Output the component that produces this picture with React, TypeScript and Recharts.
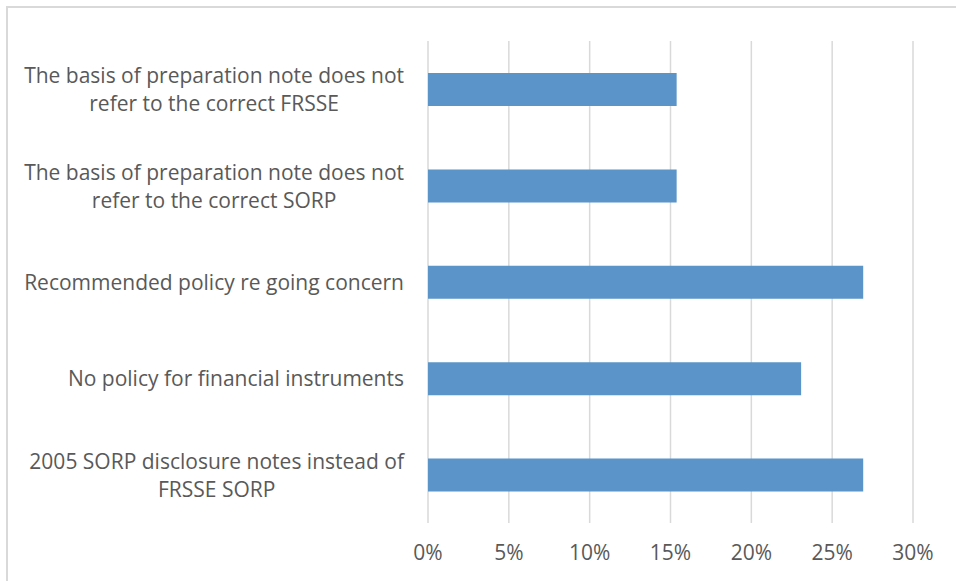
import React from 'react';
import { BarChart, Bar, XAxis, YAxis, CartesianGrid } from 'recharts';

const categories = [
  'The basis of preparation note does not refer to the correct FRSSE',
  'The basis of preparation note does not refer to the correct SORP',
  'Recommended policy re going concern',
  'No policy for financial instruments',
  '2005 SORP disclosure notes instead of FRSSE SORP',
];
const shares = [0.1538, 0.1538, 0.2692, 0.2308, 0.2692];
const xTicks = [0, 0.05, 0.1, 0.15, 0.2, 0.25, 0.3];

const data = categories.map((name, i) => ({ name, value: shares[i] }));

const FONT = '"Open Sans", sans-serif';
const FONT_SIZE = 21;
const TEXT = '#595959';
const GRID = '#d9d9d9';
const BAR = '#5B94C9';
const Y_WIDTH = 428;

let canvasCtx: CanvasRenderingContext2D | null = null;
const measure = (s: string) => {
  if (!canvasCtx) canvasCtx = document.createElement('canvas').getContext('2d');
  if (!canvasCtx) return s.length * 10;
  canvasCtx.font = `${FONT_SIZE}px "Open Sans"`;
  return canvasCtx.measureText(s).width;
};

const wrap = (s: string, max = 38) => {
  const lines: string[] = [];
  let cur = '';
  s.split(' ').forEach((w) => {
    const next = cur ? cur + ' ' + w : w;
    if (next.length > max && cur) {
      lines.push(cur);
      cur = w;
    } else cur = next;
  });
  if (cur) lines.push(cur);
  return lines;
};

const CategoryTick = ({ y, payload }: any) => {
  const lines = wrap(payload.value);
  const right = Y_WIDTH - 24;
  const widest = Math.max(...lines.map(measure));
  const cx = right - widest / 2;
  const step = 28;
  const top = y - ((lines.length - 1) * step) / 2;
  return (
    <g>
      {lines.map((l, i) => (
        <text
          key={i}
          x={lines.length > 1 ? cx : right}
          y={top + i * step}
          textAnchor={lines.length > 1 ? 'middle' : 'end'}
          dominantBaseline="central"
          fill={TEXT}
          fontSize={FONT_SIZE}
          fontFamily={FONT}
        >
          {l}
        </text>
      ))}
    </g>
  );
};

// tick y arrives below the axis line (axis y + tick size + margin)
const PercentTick = ({ x, y, payload }: any) => (
  <text x={x} y={y + 21} textAnchor="middle" dominantBaseline="central" fill={TEXT} fontSize={FONT_SIZE} fontFamily={FONT}>
    {Math.round(payload.value * 100)}%
  </text>
);

export default function App() {
  return (
    <div style={{ position: 'absolute', left: 0, top: 0, width: 956, height: 581, overflow: 'hidden', background: '#fff' }}>
      <div
        style={{
          position: 'absolute',
          left: 6,
          top: 6,
          width: 1200,
          height: 1200,
          border: `2px solid ${GRID}`,
          boxSizing: 'border-box',
        }}
      />
      <div style={{ position: 'absolute', left: 0, top: 0 }}>
        <BarChart
          width={956}
          height={581}
          data={data}
          layout="vertical"
          margin={{ top: 41, right: 43, bottom: 0, left: 0 }}
          barSize={33}
        >
          <CartesianGrid horizontal={false} stroke={GRID} strokeWidth={1.5} />
          <XAxis
            type="number"
            domain={[0, 0.3]}
            ticks={xTicks}
            axisLine={false}
            tickLine={false}
            height={58}
            tick={<PercentTick />}
            interval={0}
          />
          <YAxis
            type="category"
            dataKey="name"
            width={Y_WIDTH}
            axisLine={false}
            tickLine={false}
            tick={<CategoryTick />}
            interval={0}
          />
          <Bar dataKey="value" fill={BAR} isAnimationActive={false} />
        </BarChart>
      </div>
    </div>
  );
}
